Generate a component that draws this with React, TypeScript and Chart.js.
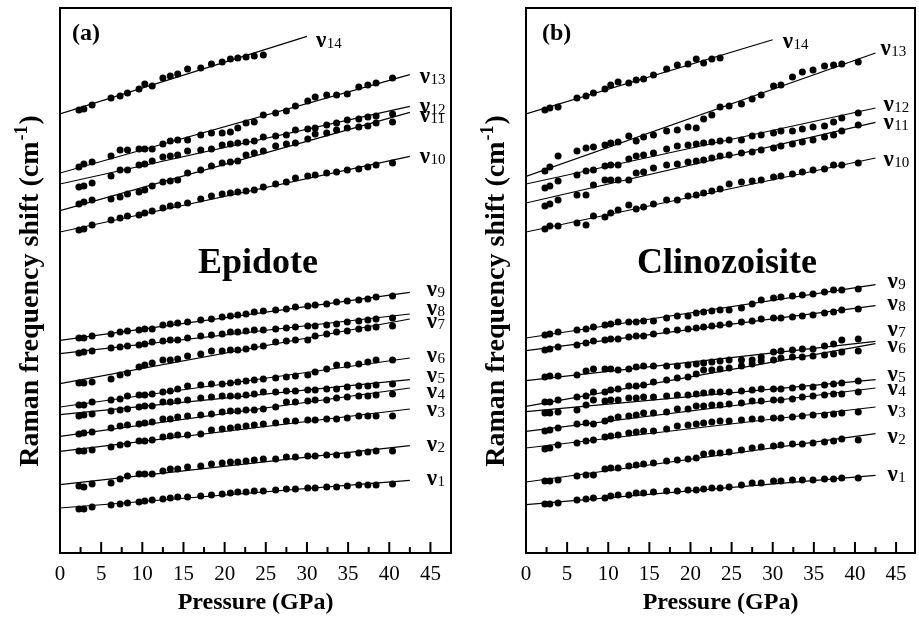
import React, { useEffect, useRef } from "react";
import { Chart, registerables } from "chart.js";

Chart.register(...registerables);

const SERIF = "'Liberation Serif', 'Times New Roman', Times, serif";

// Pressure (GPa) of each measurement
const pressure = [2.3, 2.9, 3.9, 6.2, 7.3, 8.2, 9.6, 10.3, 11.2, 12.5, 13.4, 14.3, 15.5, 17.1, 18.4, 19.7, 20.7, 21.6, 22.6, 23.6, 24.7, 26.2, 27.5, 28.6, 30.1, 31.0, 32.4, 33.6, 34.9, 36.3, 37.4, 38.4, 40.4];
const xTicks = [0, 5, 10, 15, 20, 25, 30, 35, 40, 45];
const modeNumbers = ["1", "2", "3", "4", "5", "6", "7", "8", "9", "10", "11", "12", "13", "14"];
const fitEndPressure = [42.5, 42.5, 42.5, 42.5, 42.5, 42.5, 42.5, 42.5, 42.5, 42.5, 42.5, 42.5, 42.5, 30];

// (a) Epidote — relative Raman shift (stacked, arbitrary offset)
const epV1 = [44, 44, 46, 48, 49, 50, 51, 52, 53, 54, 55, 56, 56, 57, 58, 59, 60, 61, 61, 62, 62, 63, 64, 64, 65, 65, 66, 66, 67, 68, 68, 68, 69];
const epV2 = [67, 66, 69, 70, 74, 77, 79, 79, 79, 82, 84, 84, 86, 87, 89, 90, 91, 91, 92, 93, 94, 94, 96, 96, 97, 97, 98, 98, 98, 100, 101, 102, 102];
const epV3 = [102, 102, 103, 106, 108, 109, 112, 112, 113, 116, 117, 118, 118, 119, 123, 124, 125, 126, 127, 128, 129, 130, 132, 132, 133, 133, 134, 134, 135, 137, 137, 137, 137];
const epV4 = [119, 120, 121, 125, 127, 128, 129, 130, 131, 134, 134, 136, 137, 138, 139, 141, 142, 142, 143, 143, 144, 146, 151, 151, 152, 153, 153, 155, 156, 157, 157, 158, 159];
const epV5 = [137, 138, 139, 142, 143, 144, 146, 147, 147, 151, 151, 152, 153, 155, 156, 157, 157, 157, 158, 159, 161, 161, 162, 162, 163, 163, 164, 164, 166, 167, 167, 168, 169];
const epV6 = [148, 148, 151, 153, 154, 157, 158, 158, 159, 161, 162, 164, 167, 168, 169, 169, 170, 171, 172, 173, 174, 175, 176, 177, 178, 181, 184, 188, 188, 189, 191, 193, 193];
const epV7 = [170, 170, 171, 174, 178, 180, 186, 188, 190, 193, 193, 194, 197, 199, 202, 202, 203, 203, 204, 206, 207, 211, 212, 213, 213, 217, 219, 221, 222, 224, 225, 226, 227];
const epV8 = [200, 201, 202, 205, 206, 207, 208, 209, 211, 212, 213, 213, 215, 217, 218, 219, 221, 221, 222, 223, 223, 224, 225, 226, 227, 227, 228, 229, 231, 232, 233, 234, 235];
const epV9 = [215, 215, 217, 219, 221, 222, 223, 224, 224, 228, 229, 230, 231, 233, 234, 236, 237, 238, 239, 241, 242, 243, 244, 246, 247, 248, 249, 251, 252, 253, 254, 256, 257];
const epV10 = [323, 324, 328, 333, 335, 337, 338, 340, 342, 345, 347, 348, 350, 354, 357, 359, 360, 361, 362, 363, 366, 369, 371, 375, 377, 378, 380, 381, 383, 384, 386, 388, 390];
const epV11 = [349, 351, 353, 354, 356, 359, 361, 363, 367, 371, 372, 373, 380, 383, 387, 390, 391, 392, 398, 400, 402, 407, 409, 410, 414, 419, 420, 423, 425, 426, 427, 430, 431];
const epV12 = [366, 367, 370, 377, 383, 383, 388, 389, 392, 396, 397, 398, 402, 403, 404, 408, 409, 410, 411, 412, 416, 417, 418, 423, 424, 425, 428, 430, 433, 434, 436, 437, 439];
const epV13 = [386, 389, 391, 397, 403, 403, 404, 404, 404, 409, 412, 413, 413, 418, 420, 420, 421, 425, 430, 431, 438, 440, 442, 447, 452, 456, 458, 458, 459, 466, 468, 470, 475];
const epV14 = [443, 444, 448, 455, 457, 460, 464, 469, 467, 475, 477, 479, 484, 485, 489, 491, 494, 495, 496, 497, 498];
const epFitStart = [45, 68.3, 101.6, 116.6, 138.3, 146, 169.3, 199.3, 212.6, 321, 342.3, 369, 380, 439];
const epFitEnd = [72.6, 107.3, 144, 165, 173.3, 195, 234, 239, 260.6, 396.6, 440.6, 446.6, 478.3, 516.6];

// (b) Clinozoisite
const czV1 = [49, 49, 50, 53, 54, 55, 55, 57, 58, 58, 60, 60, 61, 62, 62, 63, 63, 64, 65, 65, 66, 68, 70, 70, 72, 72, 73, 73, 73, 74, 74, 75, 75];
const czV2 = [72, 72, 73, 77, 78, 78, 84, 85, 85, 87, 88, 89, 90, 92, 93, 94, 95, 99, 100, 100, 101, 103, 105, 106, 107, 108, 109, 109, 110, 111, 112, 114, 113];
const czV3 = [104, 105, 108, 110, 112, 113, 116, 117, 118, 120, 121, 122, 122, 124, 127, 128, 129, 130, 131, 132, 132, 133, 134, 134, 135, 135, 136, 137, 138, 138, 139, 140, 141];
const czV4 = [122, 123, 125, 129, 130, 129, 132, 134, 136, 137, 138, 140, 140, 141, 144, 144, 147, 147, 148, 148, 149, 150, 152, 152, 153, 153, 154, 156, 157, 158, 159, 159, 161];
const czV5 = [140, 140, 141, 143, 148, 153, 152, 153, 153, 155, 155, 156, 156, 157, 158, 158, 159, 160, 161, 161, 161, 162, 163, 164, 164, 164, 165, 166, 166, 168, 169, 170, 172];
const czV6 = [151, 151, 153, 156, 157, 161, 161, 163, 164, 167, 167, 168, 171, 173, 175, 176, 179, 183, 183, 184, 185, 187, 189, 192, 193, 195, 196, 196, 197, 198, 199, 201, 202];
const czV7 = [176, 177, 177, 178, 182, 184, 184, 184, 183, 184, 186, 187, 187, 187, 187, 188, 189, 190, 191, 192, 193, 193, 193, 196, 201, 202, 203, 204, 204, 207, 209, 213, 214];
const czV8 = [203, 204, 206, 208, 210, 212, 213, 214, 214, 216, 217, 217, 219, 222, 223, 224, 225, 226, 227, 228, 229, 231, 232, 234, 235, 235, 236, 237, 238, 240, 241, 243, 244];
const czV9 = [218, 219, 221, 223, 224, 226, 228, 229, 231, 231, 231, 232, 232, 235, 237, 237, 240, 241, 242, 243, 243, 245, 249, 253, 255, 256, 257, 258, 259, 261, 263, 263, 264];
const czV10 = [324, 327, 327, 330, 328, 337, 336, 340, 343, 348, 344, 346, 349, 353, 353, 357, 358, 360, 362, 364, 369, 371, 372, 373, 376, 377, 379, 381, 383, 384, 388, 388, 390];
const czV11 = [347, 349, 353, 358, 358, 368, 373, 373, 373, 373, 380, 381, 385, 388, 389, 391, 392, 393, 395, 397, 398, 400, 401, 403, 405, 407, 409, 411, 413, 416, 418, 422, 428];
const czV12 = [365, 367, 372, 378, 382, 383, 387, 388, 388, 394, 397, 398, 400, 404, 407, 408, 409, 410, 411, 412, 413, 413, 417, 418, 420, 422, 422, 424, 426, 427, 431, 435, 440];
const czV13 = [382, 386, 397, 402, 405, 406, 408, 410, 411, 417, 412, 416, 418, 422, 423, 426, 425, 434, 438, 446, 447, 449, 454, 458, 467, 468, 476, 481, 483, 487, 488, 489, 491];
const czV14 = [443, 445, 446, 455, 457, 460, 464, 468, 471, 470, 473, 474, 478, 484, 488, 489, 494, 490, 494, 495];
const czFitStart = [48.3, 71, 105, 121.6, 141.3, 146.6, 172.3, 202.3, 215, 321, 350, 369, 376.6, 439];
const czFitEnd = [77.6, 119.3, 146, 165, 173.3, 209.3, 211.6, 247.3, 268.3, 395, 430.6, 445, 500, 513.3];

// label offsets (px) from the end of each fit line
const epLabelDx = [17, 17, 17, 17, 17, 17, 17, 17, 17, 10, 10, 10, 10, 9];
const epLabelDy = [0, 0, 2, 5, -3, -1, 4, -4, -1, 2, 5, 2, 3, 6];
const czLabelDx = [12, 12, 12, 12, 12, 12, 12, 12, 12, 8, 8, 8, 5, 10];
const czLabelDy = [1, 4, 4, 2, -4, 3, -10, -1, -2, 3, 2, -2, -3, 3];

type PanelCfg = {
  width: number;
  plotLeft: number;
  padRight: number;
  xMax: number;
  name: string;
  nameX: number;
  letter: string;
  letterX: number;
  series: number[][];
  fitStart: number[];
  fitEnd: number[];
  labelDx: number[];
  labelDy: number[];
};

const panelA: PanelCfg = {
  width: 460, plotLeft: 60, padRight: 9, xMax: 47.5,
  name: "Epidote", nameX: 258, letter: "(a)", letterX: 72,
  series: [epV1, epV2, epV3, epV4, epV5, epV6, epV7, epV8, epV9, epV10, epV11, epV12, epV13, epV14],
  fitStart: epFitStart, fitEnd: epFitEnd, labelDx: epLabelDx, labelDy: epLabelDy,
};
const panelB: PanelCfg = {
  width: 459, plotLeft: 66, padRight: 3, xMax: 47.3,
  name: "Clinozoisite", nameX: 267, letter: "(b)", letterX: 82,
  series: [czV1, czV2, czV3, czV4, czV5, czV6, czV7, czV8, czV9, czV10, czV11, czV12, czV13, czV14],
  fitStart: czFitStart, fitEnd: czFitEnd, labelDx: czLabelDx, labelDy: czLabelDy,
};

function makeDecor(cfg: PanelCfg) {
  return {
    id: "decor",
    afterDraw(chart: any) {
      const { ctx, chartArea: a, scales } = chart;
      const xs = scales.x;
      const ys = scales.y;
      ctx.save();
      ctx.strokeStyle = "#000";
      ctx.fillStyle = "#000";
      // frame
      ctx.lineWidth = 2;
      ctx.strokeRect(a.left, a.top, a.right - a.left, a.bottom - a.top);
      // inward ticks
      const seg = (x: number, y1: number, y2: number) => {
        ctx.beginPath();
        ctx.moveTo(x, y1);
        ctx.lineTo(x, y2);
        ctx.stroke();
      };
      xTicks.forEach((t, i) => {
        seg(xs.getPixelForValue(t), a.bottom, a.bottom - 11);
        if (i < xTicks.length - 1) {
          seg(xs.getPixelForValue((t + xTicks[i + 1]) / 2), a.bottom, a.bottom - 6);
        }
      });
      // mode labels
      ctx.textBaseline = "alphabetic";
      ctx.textAlign = "left";
      modeNumbers.forEach((n, i) => {
        const x = xs.getPixelForValue(fitEndPressure[i]) + cfg.labelDx[i];
        const y = ys.getPixelForValue(cfg.fitEnd[i]) + cfg.labelDy[i];
        ctx.font = `bold 23px ${SERIF}`;
        ctx.fillText("ν", x, y + 5);
        const w = ctx.measureText("ν").width;
        ctx.font = `15px ${SERIF}`;
        ctx.fillText(n, x + w + 0.5, y + 6);
      });
      // panel letter and mineral name
      ctx.font = `bold 24px ${SERIF}`;
      ctx.fillText(cfg.letter, cfg.letterX, 40);
      ctx.font = `bold 36px ${SERIF}`;
      ctx.textAlign = "center";
      ctx.fillText(cfg.name, cfg.nameX, 273);
      // y-axis title with superscript
      const main = "Raman frequency shift (cm";
      ctx.font = `bold 28px ${SERIF}`;
      const wMain = ctx.measureText(main).width;
      const wClose = ctx.measureText(")").width;
      ctx.font = `bold 18px ${SERIF}`;
      const wSup = ctx.measureText("-1").width;
      const total = wMain + wSup + 2 + wClose;
      ctx.translate(cfg.plotLeft - 22.5, 291);
      ctx.rotate(-Math.PI / 2);
      ctx.textAlign = "left";
      let px = -total / 2;
      ctx.font = `bold 28px ${SERIF}`;
      ctx.fillText(main, px, 0);
      px += wMain + 1;
      ctx.font = `bold 18px ${SERIF}`;
      ctx.fillText("-1", px, -11);
      px += wSup + 1;
      ctx.font = `bold 28px ${SERIF}`;
      ctx.fillText(")", px, 0);
      ctx.restore();
    },
  };
}

function Panel({ cfg }: { cfg: PanelCfg }) {
  const ref = useRef<HTMLCanvasElement>(null);
  useEffect(() => {
    if (!ref.current) return;
    const datasets: any[] = [];
    cfg.series.forEach((vals, i) => {
      datasets.push({
        label: "fit ν" + modeNumbers[i],
        data: [
          { x: 0, y: cfg.fitStart[i] },
          { x: fitEndPressure[i], y: cfg.fitEnd[i] },
        ],
        showLine: true,
        borderColor: "#000",
        borderWidth: 1.2,
        pointRadius: 0,
        fill: false,
      });
      datasets.push({
        label: "ν" + modeNumbers[i],
        data: vals.map((v, j) => ({ x: pressure[j], y: v })),
        showLine: false,
        pointRadius: 3.5,
        pointBackgroundColor: "#000",
        backgroundColor: "#000",
        pointBorderWidth: 0,
        borderWidth: 0,
      });
    });
    const chart = new Chart(ref.current, {
      type: "scatter",
      data: { datasets },
      options: {
        animation: false,
        responsive: false,
        devicePixelRatio: 1,
        layout: { padding: { left: cfg.plotLeft, right: cfg.padRight, top: 8, bottom: 0 } },
        plugins: { legend: { display: false }, tooltip: { enabled: false }, title: { display: false } },
        scales: {
          x: {
            type: "linear",
            min: 0,
            max: cfg.xMax,
            afterBuildTicks: (s: any) => {
              s.ticks = xTicks.map((v) => ({ value: v }));
            },
            afterFit: (s: any) => {
              s.height = 64;
            },
            grid: { display: false, drawTicks: false },
            border: { display: false },
            ticks: {
              color: "#000",
              font: { family: SERIF, size: 21 },
              padding: 9,
              maxRotation: 0,
              autoSkip: false,
            },
            title: {
              display: true,
              text: "Pressure (GPa)",
              color: "#000",
              font: { family: SERIF, size: 24, weight: "bold" },
              padding: { top: 0, bottom: 0 },
            },
          },
          y: { type: "linear", display: false, min: 0, max: 545 },
        },
      } as any,
      plugins: [makeDecor(cfg)],
    });
    return () => chart.destroy();
  }, [cfg]);
  return (
    <canvas
      ref={ref}
      width={cfg.width}
      height={617}
      style={{ display: "block", width: cfg.width, height: 617 }}
    />
  );
}

export default function App() {
  return (
    <div style={{ position: "fixed", left: 0, top: 0, width: 919, height: 617, background: "#fff", display: "flex" }}>
      <Panel cfg={panelA} />
      <Panel cfg={panelB} />
    </div>
  );
}
